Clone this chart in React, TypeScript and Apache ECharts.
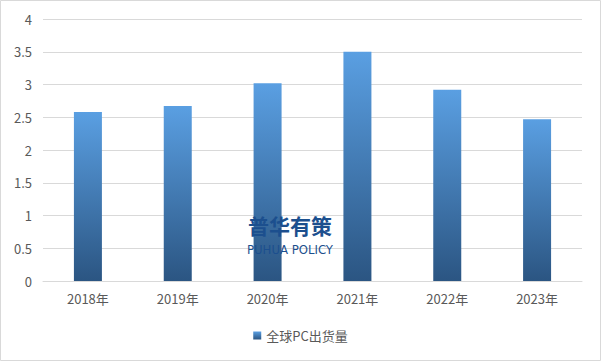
import React, { useEffect, useRef } from "react";
import * as echarts from "echarts";

const categories = ["2018年", "2019年", "2020年", "2021年", "2022年", "2023年"];
const shipments = [2.58, 2.67, 3.02, 3.5, 2.92, 2.47];
const seriesName = "全球PC出货量";

export default function App() {
  const ref = useRef<HTMLDivElement>(null);
  useEffect(() => {
    document.body.style.margin = "0";
    const chart = echarts.init(ref.current!, null, { renderer: "svg" });
    const grad = new echarts.graphic.LinearGradient(0, 0, 0, 1, [
      { offset: 0, color: "#5A9FE2" },
      { offset: 1, color: "#2B5582" },
    ]);
    chart.setOption({
      animation: false,
      backgroundColor: "#ffffff",
      textStyle: { fontFamily: "'Noto Sans CJK SC', 'Noto Sans', sans-serif" },
      grid: { left: 43, right: 19, top: 19, bottom: 80 },
      xAxis: {
        type: "category",
        data: categories,
        axisLine: { lineStyle: { color: "#D9D9D9" } },
        axisTick: { show: false },
        axisLabel: { color: "#595959", fontSize: 13, margin: 11 },
      },
      yAxis: {
        type: "value",
        min: 0,
        max: 4,
        interval: 0.5,
        axisLine: { show: false },
        axisTick: { show: false },
        splitLine: { lineStyle: { color: "#D9D9D9" } },
        axisLabel: { color: "#595959", fontSize: 13, margin: 11 },
      },
      legend: {
        bottom: 14,
        left: "center",
        icon: "rect",
        itemWidth: 8,
        itemHeight: 8,
        itemGap: 4,
        textStyle: { color: "#595959", fontSize: 13 },
        data: [seriesName],
      },
      series: [
        {
          name: seriesName,
          type: "bar",
          data: shipments,
          barWidth: 28,
          itemStyle: { color: grad },
        },
      ],
      graphic: [
        {
          type: "rect",
          shape: { x: 0.5, y: 0.5, width: 600, height: 360 },
          style: { fill: "none", stroke: "#D9D9D9", lineWidth: 1 },
          silent: true,
        },
        {
          type: "text",
          x: 290,
          y: 225,
          style: {
            text: "普华有策",
            fill: "#1C4F8E",
            font: "bold 21px 'Noto Sans CJK SC'",
            align: "center",
            verticalAlign: "middle",
          },
          z: 100,
        },
        {
          type: "text",
          x: 290,
          y: 249,
          style: {
            text: "PUHUA POLICY",
            fill: "#1C4F8E",
            font: "13px 'DejaVu Sans Condensed', 'Liberation Sans Narrow', 'Noto Sans', sans-serif",
            align: "center",
            verticalAlign: "middle",
          },
          z: 100,
        },
      ],
    });
    return () => chart.dispose();
  }, []);
  return <div ref={ref} style={{ width: 601, height: 361 }} />;
}
